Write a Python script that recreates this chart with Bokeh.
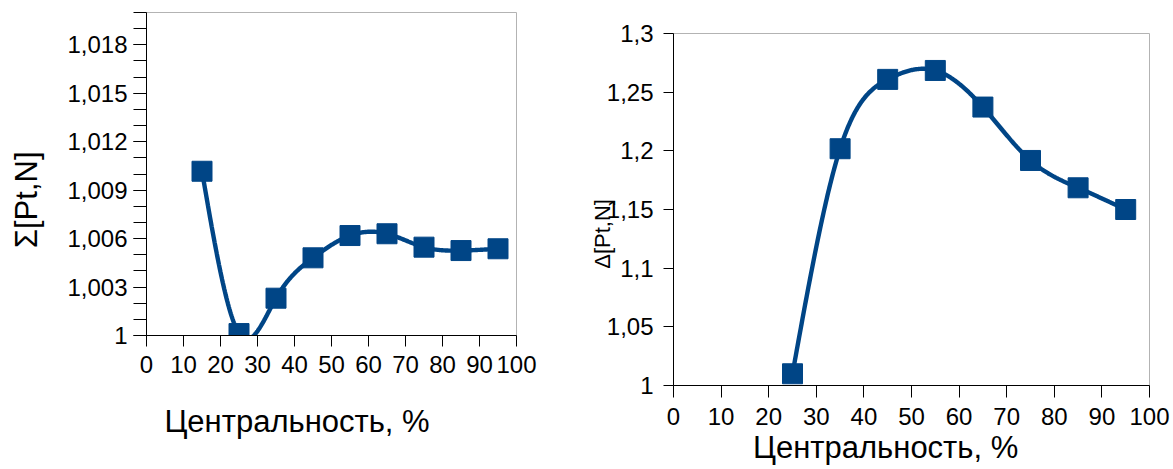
import numpy as np
from bokeh.plotting import figure
from bokeh.layouts import row
from bokeh.models import Range1d, FixedTicker, CustomJSTickFormatter
from bokeh.embed import file_html
from bokeh.resources import INLINE

# ---------------- data ----------------
centrality = [15, 25, 35, 45, 55, 65, 75, 85, 95]
sigma_pt_n = [1.01017, 1.00012, 1.00231, 1.00481, 1.00619, 1.00630, 1.00547, 1.00526, 1.00537]

centrality_r = [25, 35, 45, 55, 65, 75, 85, 95]
delta_pt_n = [1.0100, 1.2018, 1.2609, 1.2685, 1.2373, 1.1918, 1.1685, 1.1500]

x_ticks = [0, 10, 20, 30, 40, 50, 60, 70, 80, 90, 100]
left_y_major = [1.000, 1.003, 1.006, 1.009, 1.012, 1.015, 1.018]
left_y_minor = [1.000, 1.001, 1.002, 1.003, 1.004, 1.005, 1.006, 1.007, 1.008, 1.009, 1.010,
                1.011, 1.012, 1.013, 1.014, 1.015, 1.016, 1.017, 1.018, 1.019, 1.020]
right_y_major = [1.00, 1.05, 1.10, 1.15, 1.20, 1.25, 1.30]

x_title = "Центральность, %"
left_y_title = "Σ[Pt,N]"
right_y_title = "Δ[Pt,N]"

BLUE = "#004586"
FONT = "Liberation Sans"
NB = "\u00a0"


def natural_spline(x, y, n=400):
    x = np.asarray(x, float)
    y = np.asarray(y, float)
    k = len(x)
    h = np.diff(x)
    A = np.zeros((k, k))
    b = np.zeros(k)
    A[0, 0] = 1
    A[-1, -1] = 1
    for i in range(1, k - 1):
        A[i, i - 1] = h[i - 1]
        A[i, i] = 2 * (h[i - 1] + h[i])
        A[i, i + 1] = h[i]
        b[i] = 6 * ((y[i + 1] - y[i]) / h[i] - (y[i] - y[i - 1]) / h[i - 1])
    M = np.linalg.solve(A, b)
    xs = np.linspace(x[0], x[-1], n)
    idx = np.clip(np.searchsorted(x, xs) - 1, 0, k - 2)
    x0, x1 = x[idx], x[idx + 1]
    hh = x1 - x0
    ys = (M[idx] * (x1 - xs) ** 3 / (6 * hh) + M[idx + 1] * (xs - x0) ** 3 / (6 * hh)
          + (y[idx] / hh - M[idx] * hh / 6) * (x1 - xs)
          + (y[idx + 1] / hh - M[idx + 1] * hh / 6) * (xs - x0))
    return xs, ys


def style_common(p):
    p.frame_align = False
    p.xgrid.visible = False
    p.ygrid.visible = False
    p.outline_line_color = "#b3b3b3"
    p.outline_line_width = 1
    p.background_fill_color = "white"
    p.border_fill_color = "white"
    for ax in (p.xaxis[0], p.yaxis[0]):
        ax.axis_line_color = "black"
        ax.axis_line_width = 1
        ax.major_tick_line_color = "black"
        ax.minor_tick_line_color = "black"
        ax.major_tick_in = 0
        ax.minor_tick_in = 0
        ax.major_label_text_font = FONT
        ax.major_label_text_font_size = "24px"
        ax.major_label_text_color = "black"
        ax.axis_label_text_font = FONT
        ax.axis_label_text_font_style = "normal"
        ax.axis_label_text_color = "black"


# ---------------- left figure ----------------
pl = figure(width=580, height=469, output_backend="svg", toolbar_location=None,
            x_range=Range1d(0, 100), y_range=Range1d(1.0, 1.020),
            min_border_left=146, min_border_right=64, min_border_top=12, min_border_bottom=134)
style_common(pl)
pl.xaxis[0].ticker = FixedTicker(ticks=x_ticks)
pl.xaxis[0].minor_tick_line_color = None
pl.xaxis[0].major_tick_out = 11
pl.xaxis[0].major_label_standoff = 9
pl.xaxis[0].axis_label = x_title + NB * 8
pl.xaxis[0].axis_label_text_font_size = "31px"
pl.xaxis[0].axis_label_standoff = 28
pl.yaxis[0].ticker = FixedTicker(ticks=left_y_major, minor_ticks=left_y_minor)
pl.yaxis[0].major_tick_out = 13
pl.yaxis[0].minor_tick_out = 13
pl.yaxis[0].major_label_standoff = 6
pl.yaxis[0].formatter = CustomJSTickFormatter(
    code="return parseFloat(tick.toFixed(3)).toString().replace('.', ',');")
pl.yaxis[0].axis_label = left_y_title + NB * 6
pl.yaxis[0].axis_label_text_font_size = "31px"
pl.yaxis[0].axis_label_standoff = 20

xs, ys = natural_spline(centrality, sigma_pt_n)
pl.line(xs, ys, line_color=BLUE, line_width=4.4)
pl.scatter(centrality, sigma_pt_n, marker="square", size=20, fill_color=BLUE, line_color=BLUE)

# ---------------- right figure ----------------
pr = figure(width=593, height=469, output_backend="svg", toolbar_location=None,
            x_range=Range1d(0, 100), y_range=Range1d(1.0, 1.3),
            min_border_left=93, min_border_right=24, min_border_top=33, min_border_bottom=84)
style_common(pr)
pr.xaxis[0].ticker = FixedTicker(ticks=x_ticks)
pr.xaxis[0].minor_tick_line_color = None
pr.xaxis[0].major_tick_out = 12
pr.xaxis[0].major_label_standoff = 10
pr.xaxis[0].axis_label = x_title + NB * 6
pr.xaxis[0].axis_label_text_font_size = "31px"
pr.xaxis[0].axis_label_standoff = 2
pr.yaxis[0].ticker = FixedTicker(ticks=right_y_major)
pr.yaxis[0].minor_tick_line_color = None
pr.yaxis[0].major_tick_out = 10
pr.yaxis[0].major_label_standoff = 10
pr.yaxis[0].formatter = CustomJSTickFormatter(
    code="return parseFloat(tick.toFixed(2)).toString().replace('.', ',');")
pr.yaxis[0].axis_label = right_y_title + NB * 8
pr.yaxis[0].axis_label_text_font_size = "22px"
pr.yaxis[0].axis_label_standoff = -11

xs2, ys2 = natural_spline(centrality_r, delta_pt_n)
pr.line(xs2, ys2, line_color=BLUE, line_width=4.4)
pr.scatter(centrality_r, delta_pt_n, marker="square", size=20, fill_color=BLUE, line_color=BLUE)

layout = row(pl, pr)
open("out.html", "w").write(file_html(layout, INLINE))
